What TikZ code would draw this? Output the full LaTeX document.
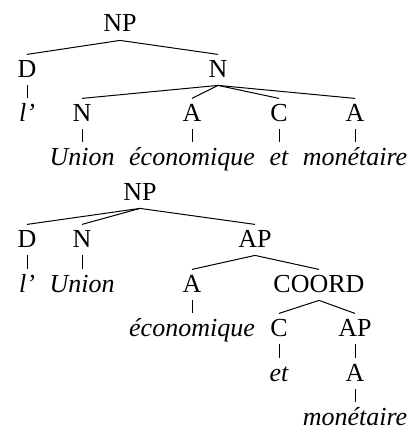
\documentclass[tikz,border=0pt]{standalone}
\usepackage{fontspec}
\setmainfont{Liberation Serif}
\usetikzlibrary{positioning}

\tikzset{
  cat/.style={anchor=base,inner xsep=1pt,inner ysep=2.5pt,text height=8.6pt,text depth=1.5pt,font=\fontsize{13}{15}\selectfont},
  word/.style={cat,font=\fontsize{13}{15}\selectfont\itshape},
  branch/.style={line width=0.5pt}
}

\begin{document}
\begin{tikzpicture}[x=0.5pt,y=0.5pt,yscale=-1,xscale=1]
\useasboundingbox (0,0) rectangle (409,428);

% Upper tree: flat N
\draw (120,32) node (npa) [cat] {NP};
\draw (27,77) node (da) [cat] {D};
\draw (218,77) node (na) [cat] {N};
\draw (27,121) node (lda) [word] {l’};
\draw (82,121) node (nna) [cat] {N};
\draw (192,121) node (aa) [cat] {A};
\draw (279,121) node (ca) [cat] {C};
\draw (355,121) node (ab) [cat] {A};
\draw (82,165) node (unia) [word] {Union};
\draw (192,165) node (ecoa) [word] {économique};
\draw (279,165) node (eta) [word] {et};
\draw (355,165) node (mona) [word] {monétaire};

\draw [branch] (npa.south) -- (da.north);
\draw [branch] (npa.south) -- (na.north);
\draw [branch] (da.south) -- (lda.north);
\draw [branch] (na.south) -- (nna.north);
\draw [branch] (na.south) -- (aa.north);
\draw [branch] (na.south) -- (ca.north);
\draw [branch] (na.south) -- (ab.north);
\draw [branch] (nna.south) -- (unia.north);
\draw [branch] (aa.south) -- (ecoa.north);
\draw [branch] (ca.south) -- (eta.north);
\draw [branch] (ab.south) -- (mona.north);

% Lower tree: AP with COORD
\draw (140,200) node (npb) [cat] {NP};
\draw (27,247) node (db) [cat] {D};
\draw (82,247) node (nb) [cat] {N};
\draw (255,247) node (apb) [cat] {AP};
\draw (27,292) node (ldb) [word] {l’};
\draw (82,292) node (unib) [word] {Union};
\draw (192,292) node (ac) [cat] {A};
\draw (319,292) node (coord) [cat] {COORD};
\draw (192,336) node (ecob) [word] {économique};
\draw (279,336) node (cb) [cat] {C};
\draw (355,336) node (apc) [cat] {AP};
\draw (279,381) node (etb) [word] {et};
\draw (355,381) node (ad) [cat] {A};
\draw (355,425) node (monb) [word] {monétaire};

\draw [branch] (npb.south) -- (db.north);
\draw [branch] (npb.south) -- (nb.north);
\draw [branch] (npb.south) -- (apb.north);
\draw [branch] (db.south) -- (ldb.north);
\draw [branch] (nb.south) -- (unib.north);
\draw [branch] (apb.south) -- (ac.north);
\draw [branch] (apb.south) -- (coord.north);
\draw [branch] (ac.south) -- (ecob.north);
\draw [branch] (coord.south) -- (cb.north);
\draw [branch] (coord.south) -- (apc.north);
\draw [branch] (cb.south) -- (etb.north);
\draw [branch] (apc.south) -- (ad.north);
\draw [branch] (ad.south) -- (monb.north);

\end{tikzpicture}
\end{document}
